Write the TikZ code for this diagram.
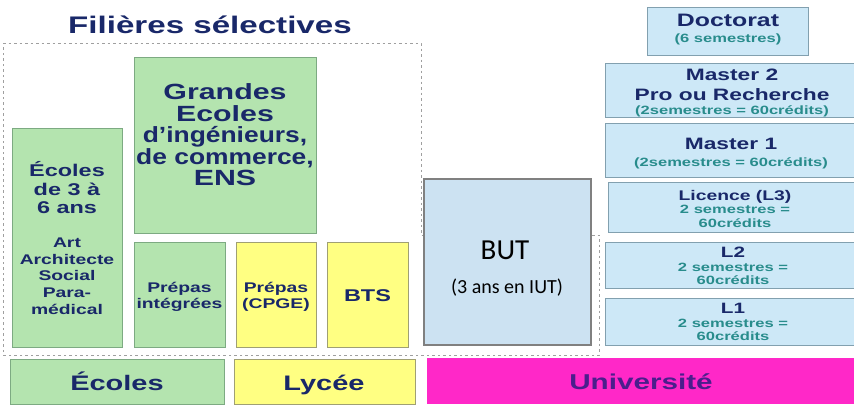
\documentclass[tikz,border=0pt]{standalone}
\usepackage{fontspec}
\newfontfamily\arialx{Liberation Sans}[FakeStretch=1.38]
\newfontfamily\arialn{Liberation Sans}[FakeStretch=1.2]
\newfontfamily\calib{Carlito}

\definecolor{vertfond}{RGB}{180, 228, 175}
\definecolor{vertbord}{RGB}{125, 170, 130}
\definecolor{jaunefond}{RGB}{255, 255, 130}
\definecolor{jaunebord}{RGB}{160, 160, 115}
\definecolor{bleufond}{RGB}{205, 232, 247}
\definecolor{bleubord}{RGB}{130, 160, 175}
\definecolor{butfond}{RGB}{204, 226, 242}
\definecolor{univfond}{RGB}{255, 40, 200}
\definecolor{marine}{RGB}{25, 40, 105}
\definecolor{sarcelle}{RGB}{40, 140, 140}
\definecolor{univtexte}{RGB}{75, 30, 140}

\newcommand{\taille}[2]{\fontsize{#1}{#2}\selectfont}

\tikzset{
    vert/.style={fill=vertfond, draw=vertbord, line width=1pt},
    jaune/.style={fill=jaunefond, draw=jaunebord, line width=1pt},
    bleu/.style={fill=bleufond, draw=bleubord, line width=1pt},
    butbox/.style={fill=butfond, draw=gray, line width=1.6pt},
    pointille/.style={draw=gray!75, line width=0.9pt, dash pattern=on 2.5pt off 3pt},
    lbl/.style={text=marine, align=center, inner sep=0pt}
}

\begin{document}
\begin{tikzpicture}[x=1pt, y=-1pt]

    \useasboundingbox (0, 0) rectangle (854, 405);
    \clip (0, 0) rectangle (854, 405);

    % ═══════════════════════════════════════════════════════════════════════════
    % FILIÈRES SÉLECTIVES
    % ═══════════════════════════════════════════════════════════════════════════

    \node[lbl, anchor=base, font=\arialx\bfseries\taille{24}{26}] (titre) at (210, 33) {Filières sélectives};
    \draw[pointille] (3, 43) -- (421, 43) -- (421, 235) -- (599, 235) -- (599, 355) -- (3, 355) -- cycle;

    \draw[vert] (12, 128) rectangle (122, 347);
    \node[lbl, font=\arialx\bfseries\taille{17}{18.5}] (ecoles36) at (67, 188) {Écoles\\de 3 à\\6 ans};
    \node[lbl, font=\arialx\bfseries\taille{14}{16.7}] (artsocial) at (67, 276) {Art\\Architecte\\Social\\Para-\\médical};

    \draw[vert] (134, 57) rectangle (316, 233);
    \node[lbl, font=\arialx\bfseries\taille{22}{21.5}] (grandes) at (225, 135)
        {Grandes\\Ecoles\\\arialn d’ingénieurs,\\\arialn de commerce,\\ENS};

    \draw[vert] (134, 242) rectangle (225, 347);
    \node[lbl, font=\arialx\bfseries\taille{14}{15.5}] (prepint) at (179.5, 297) {Prépas\\intégrées};

    \draw[jaune] (236, 242) rectangle (316, 347);
    \node[lbl, font=\arialx\bfseries\taille{14}{15.5}] (cpge) at (276, 297) {Prépas\\(CPGE)};

    \draw[jaune] (327, 242) rectangle (408, 347);
    \node[lbl, font=\arialx\bfseries\taille{17}{18}] (bts) at (367.5, 296) {BTS};

    % ═══════════════════════════════════════════════════════════════════════════
    % BUT
    % ═══════════════════════════════════════════════════════════════════════════

    \draw[butbox] (424, 179) rectangle (591, 345);
    \node[font=\calib\taille{29}{30}, inner sep=0pt] (but) at (505, 250) {BUT};
    \node[font=\calib\taille{20}{22}, inner sep=0pt] (iut) at (507, 288) {(3 ans en IUT)};

    % ═══════════════════════════════════════════════════════════════════════════
    % UNIVERSITÉ : LMD
    % ═══════════════════════════════════════════════════════════════════════════

    \draw[bleu] (647, 7) rectangle (808, 55);
    \node[lbl, font=\arialx\bfseries\taille{18}{16}] (doctorat) at (728, 30)
        {Doctorat\\\taille{12}{16}\color{sarcelle}(6 semestres)};

    \draw[bleu] (605, 63) rectangle (860, 117);
    \node[lbl, font=\arialx\bfseries\taille{16.5}{19.5}] (master2) at (732, 93)
        {Master 2\\Pro ou Recherche\\[-5.5pt]\taille{12}{13}\color{sarcelle}(2semestres = 60crédits)};

    \draw[bleu] (605, 123) rectangle (860, 177);
    \node[lbl, font=\arialx\bfseries\taille{16.5}{16.5}] (master1) at (731, 153.5)
        {Master 1\\\taille{12}{16.5}\color{sarcelle}(2semestres = 60crédits)};

    \draw[bleu] (608, 182) rectangle (860, 232);
    \node[lbl, font=\arialx\bfseries\taille{12}{13.5}] (licence) at (735, 208.5)
        {\taille{14}{13.5}Licence (L3)\\\color{sarcelle}2 semestres =\\\color{sarcelle}60crédits};

    \draw[bleu] (605, 242) rectangle (860, 288);
    \node[lbl, font=\arialx\bfseries\taille{12}{13.5}] (l2) at (733, 266)
        {\taille{15}{14}L2\\\color{sarcelle}2 semestres =\\\color{sarcelle}60crédits};

    \draw[bleu] (605, 298) rectangle (860, 345);
    \node[lbl, font=\arialx\bfseries\taille{12}{13.5}] (l1) at (733, 322)
        {\taille{15}{14}L1\\\color{sarcelle}2 semestres =\\\color{sarcelle}60crédits};

    % ═══════════════════════════════════════════════════════════════════════════
    % BANDEAU DU BAS
    % ═══════════════════════════════════════════════════════════════════════════

    \draw[vert] (10, 359) rectangle (224, 404);
    \node[lbl, anchor=base, font=\arialx\bfseries\taille{21}{22}] (ecoles) at (117, 390) {Écoles};

    \draw[jaune] (234, 359) rectangle (415, 404);
    \node[lbl, anchor=base, font=\arialx\bfseries\taille{21}{22}] (lycee) at (324, 390) {Lycée};

    \fill[univfond] (427, 358) rectangle (860, 404);
    \node[lbl, anchor=base, text=univtexte, font=\arialx\bfseries\taille{21.5}{22}] (univ) at (641, 389) {Université};

\end{tikzpicture}
\end{document}
